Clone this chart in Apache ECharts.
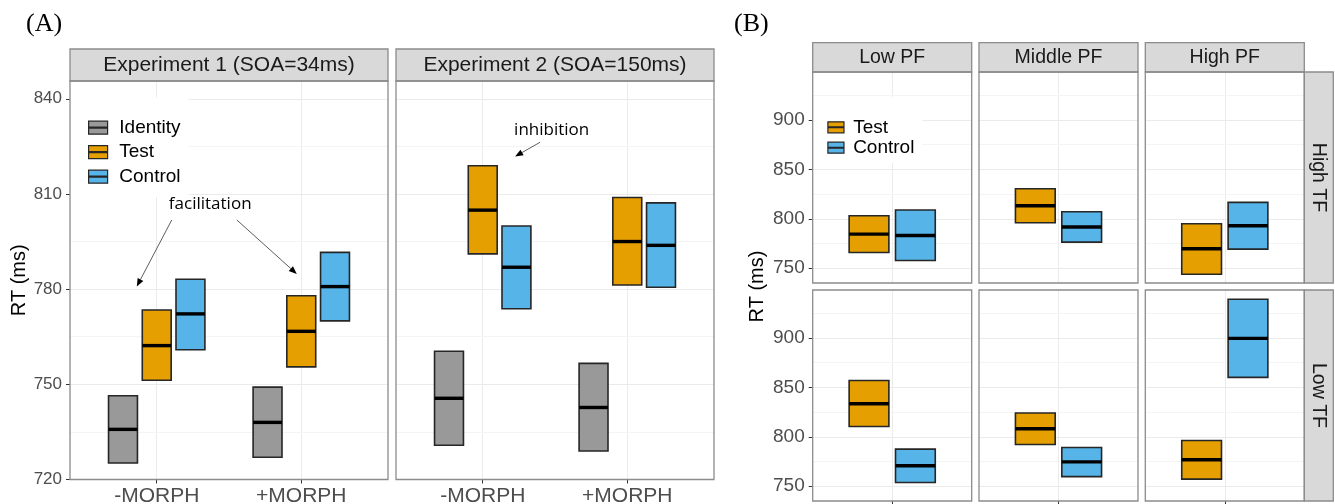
<!DOCTYPE html>
<html>
<head>
<meta charset="utf-8">
<script src="https://cdn.jsdelivr.net/npm/echarts@6/dist/echarts.min.js"></script>
<style>
  html, body { margin: 0; padding: 0; background: #fff; }
  #chart { width: 1335px; height: 504px; }
</style>
</head>
<body>
<div id="chart"></div>
<script>
// ---- panel A: [lower, median, upper] for -MORPH and +MORPH ----
var morphLabels = ['-MORPH', '+MORPH'];
var groupsA = ['Identity', 'Test', 'Control'];
var facetsA = ['Experiment 1 (SOA=34ms)', 'Experiment 2 (SOA=150ms)'];
var exp1Identity = [[725.2, 735.8, 746.4], [727.0, 738.0, 749.1]];
var exp1Test = [[751.3, 762.2, 773.4], [755.5, 766.7, 777.9]];
var exp1Control = [[760.9, 772.2, 783.1], [770.0, 780.8, 791.6]];
var exp2Identity = [[730.8, 745.6, 760.4], [729.0, 742.7, 756.6]];
var exp2Test = [[791.1, 804.9, 818.9], [781.3, 795.0, 808.9]];
var exp2Control = [[773.8, 786.9, 799.9], [780.6, 793.8, 807.2]];
var ticksA = [720, 750, 780, 810, 840];
var minorA = [735, 765, 795, 825];

// annotations (data coords): text [x, y], arrows [x1, y1, x2, y2]
var facilText = [1.37, 806.9];
var facilArrows = [[1.104, 801.8, 0.862, 780.8], [1.554, 801.8, 1.969, 784.8]];
var inhibText = [1.477, 830.2];
var inhibArrows = [[1.397, 826.3, 1.224, 821.8]];

// ---- panel B: columns Low/Middle/High PF, rows High TF / Low TF ----
var groupsB = ['Test', 'Control'];
var colsB = ['Low PF', 'Middle PF', 'High PF'];
var rowsB = ['High TF', 'Low TF'];
var highTFTest = [[765.9, 784.5, 803.0], [795.9, 813.2, 830.4], [743.9, 769.6, 794.9]];
var highTFControl = [[757.8, 783.1, 808.8], [776.4, 791.6, 807.1], [769.3, 792.9, 816.6]];
var lowTFTest = [[810.4, 833.4, 857.0], [792.2, 808.1, 824.0], [757.1, 776.7, 796.2]];
var lowTFControl = [[753.7, 770.6, 787.5], [759.7, 774.6, 789.1], [860.1, 899.6, 939.1]];
var ticksB = [750, 800, 850, 900];
var minorB = [775, 825, 875, 925];

var colors = { Identity: '#999999', Test: '#E69F00', Control: '#56B4E9' };
var edgeColor = '#8c8c8c';
var majorGrid = '#ebebeb';
var minorGrid = '#f4f4f4';
var keyIcon = 'path://M0,0H19V13H0Z M0,6H19V7H0Z';

var chart = echarts.init(document.getElementById('chart'));

var grids = [];
var xAxes = [];
var yAxes = [];
var series = [];
var graphics = [];

function crossbar(half, color) {
  return function (params, api) {
    var x = api.value(0);
    var p1 = api.coord([x - half, api.value(3)]);
    var p2 = api.coord([x + half, api.value(1)]);
    var pm = api.coord([x, api.value(2)]);
    return {
      type: 'group',
      children: [
        { type: 'rect', shape: { x: p1[0], y: p1[1], width: p2[0] - p1[0], height: p2[1] - p1[1] },
          style: { fill: color, stroke: '#262626', lineWidth: 1.6 } },
        { type: 'line', shape: { x1: p1[0], y1: pm[1], x2: p2[0], y2: pm[1] },
          style: { stroke: '#000', lineWidth: 3.4 } }
      ]
    };
  };
}

function minorLines(vals) {
  return {
    silent: true, symbol: ['none', 'none'], z: 1, animation: false,
    label: { show: false },
    lineStyle: { color: minorGrid, width: 1, type: 'solid' },
    data: vals.map(function (v) { return { yAxis: v }; })
  };
}

function addPanel(box, xmin, xmax, ymin, ymax, step, ticks, opts) {
  var gi = grids.length;
  grids.push({ left: box[0], top: box[1], width: box[2], height: box[3], show: false, outerBoundsMode: 'none' });
  xAxes.push({
    type: 'value', gridIndex: gi, min: xmin, max: xmax, minInterval: 1, maxInterval: 1,
    axisLine: { show: false },
    axisTick: { show: opts.xTicks, length: 4, lineStyle: { color: '#333' }, customValues: opts.xCustom },
    axisLabel: { show: !!opts.xLabels, margin: 6, fontSize: 21, color: '#4d4d4d', customValues: opts.xCustom,
      formatter: function (v) { return opts.xLabels ? (opts.xLabels[v - 1] || '') : ''; } },
    splitLine: { show: true, lineStyle: { color: majorGrid, width: 1 } }
  });
  yAxes.push({
    type: 'value', gridIndex: gi, min: ymin, max: ymax, minInterval: step, maxInterval: step,
    axisLine: { show: false },
    axisTick: { show: opts.yLabels, length: 4, lineStyle: { color: '#333' }, customValues: ticks },
    axisLabel: { show: opts.yLabels, margin: 8, fontSize: opts.yFont, color: '#4d4d4d', customValues: ticks,
      formatter: function (v) { return ticks.indexOf(v) >= 0 ? String(v) : ''; } },
    splitLine: { show: true, lineStyle: { color: majorGrid, width: 1 } },
    name: opts.yName || '', nameLocation: 'middle', nameGap: 39, nameRotate: 90,
    nameTextStyle: { fontSize: 20, color: '#000' }
  });
  graphics.push({ type: 'rect', z: 100, silent: true,
    shape: { x: box[0], y: box[1], width: box[2], height: box[3] },
    style: { fill: 'none', stroke: edgeColor, lineWidth: 1.3 } });
  return gi;
}

function strip(x, y, w, h, text, size, vertical) {
  graphics.push({ type: 'rect', z: 90, silent: true, shape: { x: x, y: y, width: w, height: h },
    style: { fill: '#d9d9d9', stroke: edgeColor, lineWidth: 1.3 } });
  graphics.push({ type: 'text', z: 91, silent: true, x: x + w / 2, y: y + h / 2,
    rotation: vertical ? -Math.PI / 2 : 0,
    style: { text: text, font: size + 'px "Liberation Sans", Arial, sans-serif', fill: '#1a1a1a',
      align: 'center', verticalAlign: 'middle' } });
}

// ---- panel A ----
var dataA = [[exp1Identity, exp1Test, exp1Control], [exp2Identity, exp2Test, exp2Control]];
var leftA = [70, 396];
var dodgeA = 0.7 / 3;
var gridA = [];
for (var f = 0; f < 2; f++) {
  var gi = addPanel([leftA[f], 81, 318, 398.5], 0.4, 2.6, 720, 845.6, 30, ticksA, {
    xTicks: true, xLabels: morphLabels, xCustom: [1, 2], yLabels: f === 0, yFont: 17,
    yName: f === 0 ? 'RT (ms)' : ''
  });
  gridA.push(gi);
  strip(leftA[f], 49, 318, 32, facetsA[f], 21, false);
  groupsA.forEach(function (g, k) {
    series.push({
      type: 'custom', name: g, xAxisIndex: gi, yAxisIndex: gi, z: 3,
      itemStyle: { color: colors[g] },
      renderItem: crossbar(0.1, colors[g]),
      data: dataA[f][k].map(function (r, i) { return [i + 1 + (k - 1) * dodgeA, r[0], r[1], r[2]]; }),
      markLine: k === 0 ? minorLines(minorA) : undefined
    });
  });
}

function annotation(gi, textPos, label, arrows) {
  series.push({
    type: 'custom', name: 'annot-' + label, xAxisIndex: gi, yAxisIndex: gi, z: 4, silent: true,
    renderItem: function (params, api) {
      var a = api.coord([api.value(0), api.value(1)]);
      var b = api.coord([api.value(2), api.value(3)]);
      var ang = Math.atan2(b[1] - a[1], b[0] - a[0]);
      var len = 8, wid = 3.2;
      var bx = b[0] - len * Math.cos(ang), by = b[1] - len * Math.sin(ang);
      var children = [
        { type: 'line', shape: { x1: a[0], y1: a[1], x2: bx, y2: by }, style: { stroke: '#333', lineWidth: 0.8 } },
        { type: 'polygon', shape: { points: [
          [b[0], b[1]],
          [bx + wid * Math.sin(ang), by - wid * Math.cos(ang)],
          [bx - wid * Math.sin(ang), by + wid * Math.cos(ang)]
        ] }, style: { fill: '#000' } }
      ];
      if (params.dataIndex === 0) {
        var t = api.coord(textPos);
        children.push({ type: 'text', x: t[0], y: t[1], style: { text: label,
          font: '17px "Open Sans", "DejaVu Sans", sans-serif', fill: '#000', align: 'center', verticalAlign: 'middle' } });
      }
      return { type: 'group', children: children };
    },
    data: arrows
  });
}
annotation(gridA[0], facilText, 'facilitation', facilArrows);
annotation(gridA[1], inhibText, 'inhibition', inhibArrows);

// ---- panel B ----
var dataB = [[highTFTest, highTFControl], [lowTFTest, lowTFControl]];
var colLeftB = [812.7, 979, 1145.3];
var rowTopB = [72, 290];
for (var r = 0; r < 2; r++) {
  for (var c = 0; c < 3; c++) {
    var gb = addPanel([colLeftB[c], rowTopB[r], 159, 211], 0.4, 1.6, 735, 948.5, 50, ticksB, {
      xTicks: r === 1, xLabels: null, xCustom: [1], yLabels: c === 0, yFont: 19
    });
    groupsB.forEach(function (g, k) {
      series.push({
        type: 'custom', name: g, xAxisIndex: gb, yAxisIndex: gb, z: 3,
        itemStyle: { color: colors[g] },
        renderItem: crossbar(0.15, colors[g]),
        data: [[1 + (k === 0 ? -0.175 : 0.175)].concat(dataB[r][k][c])],
        markLine: k === 0 ? minorLines(minorB) : undefined
      });
    });
  }
}
colsB.forEach(function (name, c) { strip(colLeftB[c], 42.7, 159, 29.3, name, 19.5, false); });
rowsB.forEach(function (name, r) { strip(1304.3, rowTopB[r], 29, 211, name, 19.5, true); });

graphics.push({ type: 'text', x: 757, y: 286.5, rotation: Math.PI / 2, silent: true,
  style: { text: 'RT (ms)', font: '20px "Liberation Sans", Arial, sans-serif', fill: '#000',
    align: 'center', verticalAlign: 'middle' } });
graphics.push({ type: 'text', x: 26, y: 24, silent: true,
  style: { text: '(A)', font: '26px "Liberation Serif", "Times New Roman", serif', fill: '#000', verticalAlign: 'middle' } });
graphics.push({ type: 'text', x: 734, y: 24, silent: true,
  style: { text: '(B)', font: '26px "Liberation Serif", "Times New Roman", serif', fill: '#000', verticalAlign: 'middle' } });

function legendItems(names) {
  return names.map(function (n) {
    return { name: n, icon: keyIcon, itemStyle: { color: colors[n], borderColor: '#262626', borderWidth: 1.2 } };
  });
}

chart.setOption({
  animation: false,
  textStyle: { fontFamily: '"Liberation Sans", Arial, sans-serif' },
  grid: grids,
  xAxis: xAxes,
  yAxis: yAxes,
  legend: [
    { data: legendItems(groupsA), orient: 'vertical', left: 70, top: 97.7, selectedMode: false,
      padding: [20.5, 8, 10.8, 18], itemWidth: 19, itemHeight: 13, itemGap: 5.5,
      backgroundColor: '#fff', z: 50,
      textStyle: { fontSize: 19, lineHeight: 19, color: '#000', padding: [0, 0, 0, 6.7] } },
    { data: legendItems(groupsB), orient: 'vertical', left: 812.7, top: 96.7, selectedMode: false,
      padding: [21.1, 8, 6.1, 14.6], itemWidth: 17, itemHeight: 11, itemGap: 1.4,
      backgroundColor: '#fff', z: 50,
      textStyle: { fontSize: 19, lineHeight: 19, color: '#000', padding: [0, 0, 0, 3.7] } }
  ],
  graphic: graphics,
  series: series
});
</script>
</body>
</html>
